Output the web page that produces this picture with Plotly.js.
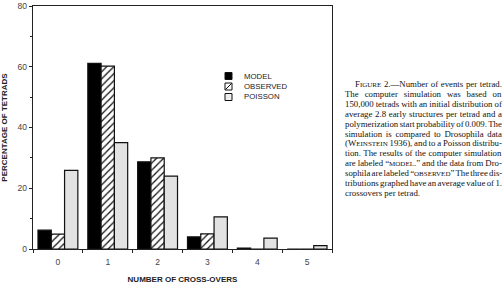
<!DOCTYPE html>
<html>
<head>
<meta charset="utf-8">
<script src="https://cdn.plot.ly/plotly-3.0.1.min.js"></script>
<style>html,body{margin:0;padding:0;background:#fff;}#chart{width:504px;height:284px;}</style>
</head>
<body>
<div id="chart"></div>
<script>
// ---- data ----
const categories = ['0', '1', '2', '3', '4', '5'];
const modelValues = [6.2, 61.1, 28.7, 4.0, 0.3, 0];
const observedValues = [4.9, 60.2, 30.0, 5.0, 0, 0];
const poissonValues = [25.9, 35.0, 24.0, 10.6, 3.6, 1.1];
const seriesNames = ['MODEL', 'OBSERVED', 'POISSON'];
const yTickValues = [0, 20, 40, 60, 80];
const xTitle = 'NUMBER OF CROSS-OVERS';
const yTitle = 'PERCENTAGE OF TETRADS';
const captionLines = [
  'F<span style="font-size:7px">IGURE</span> 2.—Number of events per tetrad.',
  'The computer simulation was based on',
  '150,000 tetrads with an initial distribution of',
  'average 2.8 early structures per tetrad and a',
  'polymerization start probability of 0.009. The',
  'simulation is compared to Drosophila data',
  '(W<span style="font-size:7px">EINSTEIN</span> 1936), and to a Poisson distribu-',
  'tion. The results of the computer simulation',
  'are labeled “<span style="font-size:7px">MODEL</span>.” and the data from Dro-',
  'sophila are labeled “<span style="font-size:7px">OBSERVED</span>” The three dis-',
  'tributions graphed have an average value of 1.',
  'crossovers per tetrad.'
];

// ---- geometry helpers (pixel -> paper) ----
const M = {l: 33, r: 172, t: 6, b: 35};
const W = 504, H = 284;
const PW = W - M.l - M.r, PH = H - M.t - M.b;
const px = x => (x - M.l) / PW;
const py = y => (H - M.b - y) / PH;

const lineStyle = {color: '#111', width: 1.2};
const traces = [
  {type: 'bar', name: seriesNames[0], x: categories, y: modelValues,
   marker: {color: '#000', line: lineStyle}},
  {type: 'bar', name: seriesNames[1], x: categories, y: observedValues,
   marker: {color: '#fff', line: lineStyle,
            pattern: {shape: '/', fgcolor: '#111', bgcolor: '#fff', size: 5, solidity: 0.25}}},
  {type: 'bar', name: seriesNames[2], x: categories, y: poissonValues,
   marker: {color: '#e2e2e2', line: lineStyle}}
];

const tickFont = {family: 'Liberation Sans, Arial, sans-serif', size: 8.5, color: '#444'};
const titleFont = {family: 'Liberation Sans, Arial, sans-serif', size: 8, color: '#222', weight: 'bold'};
const legendFont = {family: 'Liberation Sans, Arial, sans-serif', size: 7.8, color: '#222'};
const captionFont = {family: 'Liberation Serif, Times New Roman, serif', size: 8.8, color: '#111'};

const annotations = [];
const shapes = [];
// legend (drawn manually for compact spacing)
const legendY = [76, 86.5, 97];
const fills = ['#000', '#fff', '#eeeeee'];
seriesNames.forEach((name, i) => {
  const cy = legendY[i];
  shapes.push({type: 'rect', xref: 'paper', yref: 'paper',
    x0: px(225), x1: px(232), y0: py(cy + 3.5), y1: py(cy - 3.5),
    fillcolor: fills[i], line: {color: '#111', width: 1}});
  if (i === 1) {
    shapes.push({type: 'line', xref: 'paper', yref: 'paper',
      x0: px(225.5), x1: px(231.5), y0: py(cy + 3), y1: py(cy - 3),
      line: {color: '#111', width: 1}});
  }
  annotations.push({xref: 'paper', yref: 'paper', x: px(242), y: py(cy),
    xanchor: 'left', yanchor: 'middle', showarrow: false, text: name, font: legendFont});
});
// caption
const captionStart = annotations.length;
captionLines.forEach((t, i) => {
  annotations.push({xref: 'paper', yref: 'paper', x: px(i === 0 ? 353 : 343), y: py(84 + i * 9.9),
    xanchor: 'left', yanchor: 'middle', showarrow: false, text: t, font: captionFont, align: 'left'});
});

const layout = {
  width: W, height: H,
  margin: M,
  paper_bgcolor: '#fff', plot_bgcolor: '#fff',
  showlegend: false,
  barmode: 'group', bargap: 0.2, bargroupgap: 0,
  font: tickFont,
  xaxis: {
    type: 'category', range: [-0.5, 5.5],
    showline: true, linecolor: '#222', linewidth: 1.3, mirror: true,
    ticks: 'outside', tickson: 'boundaries', ticklen: 3, tickcolor: '#222', tickwidth: 1,
    tickfont: tickFont, showgrid: false, zeroline: false, fixedrange: true,
    ticklabelstandoff: 4,
    title: {text: xTitle, font: titleFont, standoff: 14}
  },
  yaxis: {
    range: [0, 80], tickmode: 'array', tickvals: yTickValues,
    showline: true, linecolor: '#222', linewidth: 1.3, mirror: true,
    ticks: 'outside', ticklen: 3, tickcolor: '#222', tickwidth: 1,
    minor: {dtick: 10, ticks: 'outside', ticklen: 2, tickcolor: '#222', showgrid: false},
    tickfont: tickFont, showgrid: false, zeroline: false, fixedrange: true,
    ticklabelstandoff: 0,
    title: {text: yTitle, font: titleFont, standoff: 9}
  },
  annotations: annotations,
  shapes: shapes
};

// justify caption lines (except the last) to the right edge, like the printed caption
function justifyCaption(gd) {
  const rightEdge = 502;
  const groups = gd.querySelectorAll('g.annotation');
  groups.forEach(g => {
    const idx = parseInt(g.getAttribute('data-index'), 10);
    if (isNaN(idx) || idx < captionStart || idx >= captionStart + captionLines.length - 1) return;
    const t = g.querySelector('text.annotation-text');
    if (!t) return;
    t.style.wordSpacing = '0px';
    const r = t.getBoundingClientRect();
    const spaces = (t.textContent.match(/ /g) || []).length;
    if (!spaces) return;
    let extra = (rightEdge - r.right) / spaces;
    extra = Math.max(extra, -1.0);
    t.style.wordSpacing = extra.toFixed(2) + 'px';
  });
}

Plotly.newPlot('chart', traces, layout, {staticPlot: true, displayModeBar: false})
  .then(gd => { justifyCaption(gd); });
</script>
</body>
</html>
